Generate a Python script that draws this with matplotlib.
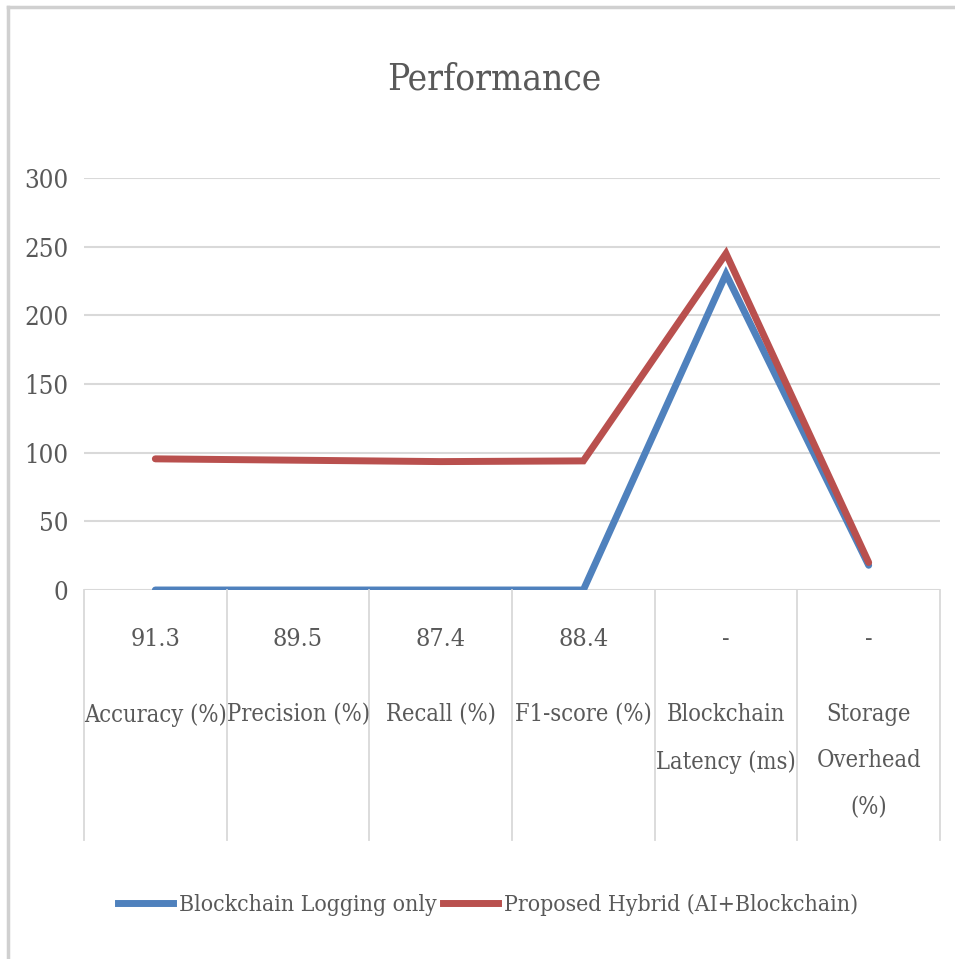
import matplotlib
matplotlib.use("Agg")
import matplotlib.pyplot as plt
from matplotlib.lines import Line2D
from matplotlib import transforms
from matplotlib import font_manager

# ---- data ----
metrics = ["Accuracy (%)", "Precision (%)", "Recall (%)", "F1-score (%)",
           "Blockchain\nLatency (ms)", "Storage\nOverhead\n(%)"]
metric_values = ["91.3", "89.5", "87.4", "88.4", "-", "-"]
logging_only = [0, 0, 0, 0, 230, 18]
hybrid = [95.5, 94.5, 93.5, 94, 245, 20]
y_ticks = [0, 50, 100, 150, 200, 250, 300]
series_names = ["Blockchain Logging only", "Proposed Hybrid (AI+Blockchain)"]

BLUE = "#4F81BD"
RED = "#B9504E"
TEXT = "#595959"
GRID = "#D9D9D9"

# pick a narrow face if one is installed
names = {(f.name, f.stretch) for f in font_manager.fontManager.ttflist}
if ("DejaVu Serif", "condensed") in names or ("DejaVu Serif", 87.5) in names:
    FONT = dict(family="DejaVu Serif", stretch="condensed")
elif any(n == "Liberation Sans Narrow" for n, _ in names):
    FONT = dict(family="Liberation Sans Narrow")
else:
    FONT = dict(family="DejaVu Serif")

W, H = 955, 959
fig = plt.figure(figsize=(W / 100, H / 100), dpi=100)
fig.patch.set_facecolor("white")

def fx(px):
    return px / W

def fy(py):
    return 1 - py / H

ax = fig.add_axes([fx(84), fy(590), fx(940) - fx(84), fy(178) - fy(590)])
x = list(range(len(metrics)))
ax.set_xlim(-0.5, len(metrics) - 0.5)
ax.set_ylim(0, 300)
ax.set_yticks(y_ticks)
ax.set_yticklabels([str(v) for v in y_ticks], color=TEXT, fontsize=18.5, **FONT)
ax.tick_params(axis="y", length=0, pad=11)
ax.set_xticks([])
for s in ax.spines.values():
    s.set_visible(False)
ax.grid(axis="y", color=GRID, linewidth=1.5)
ax.set_axisbelow(True)

ax.plot(x, logging_only, color=BLUE, linewidth=5, solid_joinstyle="miter",
        solid_capstyle="round", label=series_names[0], zorder=3)
ax.plot(x, hybrid, color=RED, linewidth=5, solid_joinstyle="miter",
        solid_capstyle="round", label=series_names[1], zorder=4)

# two-level category axis
bt = transforms.blended_transform_factory(ax.transData, fig.transFigure)
for b in [i - 0.5 for i in range(len(metrics) + 1)]:
    fig.add_artist(Line2D([b, b], [fy(590), fy(840)], transform=bt,
                          color=GRID, linewidth=1.3))
for i, (v, m) in enumerate(zip(metric_values, metrics)):
    fig.text(i, fy(640), v, transform=bt, ha="center", va="center",
             color=TEXT, fontsize=18, **FONT)
    fig.text(i, fy(703), m, transform=bt, ha="center", va="top",
             color=TEXT, fontsize=17, linespacing=2.3, multialignment="center", **FONT)

fig.text(fx(494), fy(80), "Performance", ha="center", va="center",
         color=TEXT, fontsize=26.5, **FONT)

handles = [Line2D([], [], color=BLUE, linewidth=5),
           Line2D([], [], color=RED, linewidth=5)]
fig.legend(handles, series_names, loc="center", bbox_to_anchor=(fx(488), fy(905)),
           ncol=2, frameon=False, handlelength=2.4, handletextpad=0.25,
           columnspacing=0.3, prop=dict(size=16.5, **FONT), labelcolor=TEXT)

# chart frame edges
fig.add_artist(Line2D([fx(8), fx(8)], [0, fy(7)], color="#D0D0D0", linewidth=2.5))
fig.add_artist(Line2D([fx(8), 1], [fy(7), fy(7)], color="#D0D0D0", linewidth=2.5))

fig.savefig("out.png", dpi=100)
